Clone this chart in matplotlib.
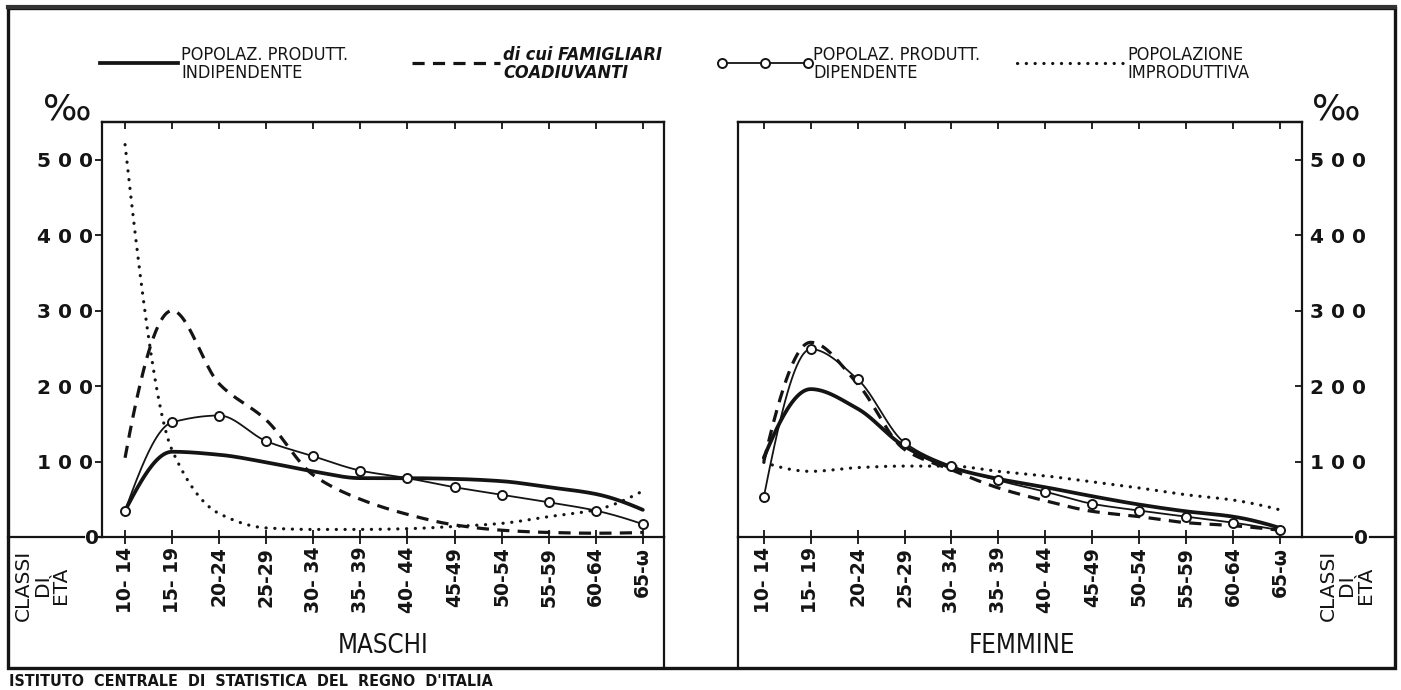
import numpy as np
import matplotlib
matplotlib.use("Agg")
import matplotlib.pyplot as plt
from matplotlib import font_manager
from matplotlib.ticker import FuncFormatter

# ---- data (per mille, by age class) ----
age_classes = ["10- 14", "15- 19", "20-24", "25-29", "30- 34", "35- 39",
               "40- 44", "45-49", "50-54", "55-59", "60-64", "65-ω"]

m_indipendente = [35, 113, 109, 99, 87, 78, 78, 77, 74, 66, 57, 36]
m_coadiuvanti = [105, 300, 203, 155, 82, 50, 30, 16, 9, 6, 5, 6]
m_dipendente = [35, 152, 161, 127, 107, 88, 78, 66, 56, 46, 35, 17]
m_improduttiva = [520, 115, 31, 12, 10, 10, 11, 14, 18, 27, 36, 61]

f_indipendente = [105, 196, 170, 120, 92, 77, 66, 54, 43, 34, 27, 12]
f_coadiuvanti = [100, 258, 203, 116, 89, 65, 48, 34, 27, 19, 15, 9]
f_dipendente = [53, 249, 209, 125, 94, 75, 60, 44, 35, 27, 19, 9]
f_improduttiva = [99, 87, 92, 94, 94, 87, 81, 73, 65, 56, 49, 36]

y_ticks = [100, 200, 300, 400, 500]

INK = "#141414"

names = {f.name for f in font_manager.fontManager.ttflist}
if "Liberation Sans Narrow" in names:
    NARROW = dict(family="Liberation Sans Narrow")
else:
    NARROW = dict(family="DejaVu Sans", stretch="condensed")
GEO = dict(family="DejaVu Sans")


def smooth(values, n=40):
    """Monotone piecewise-cubic (PCHIP) curve through the class values."""
    y = np.asarray(values, float)
    x = np.arange(len(y), dtype=float)
    h = np.diff(x)
    d = np.diff(y) / h
    m = np.zeros_like(y)
    for k in range(1, len(y) - 1):
        if d[k - 1] * d[k] > 0:
            w1 = 2 * h[k] + h[k - 1]
            w2 = h[k] + 2 * h[k - 1]
            m[k] = (w1 + w2) / (w1 / d[k - 1] + w2 / d[k])

    def end(h0, h1, d0, d1):
        mm = ((2 * h0 + h1) * d0 - h0 * d1) / (h0 + h1)
        if np.sign(mm) != np.sign(d0):
            return 0.0
        if np.sign(d0) != np.sign(d1) and abs(mm) > abs(3 * d0):
            return 3 * d0
        return mm

    m[0] = end(h[0], h[1], d[0], d[1])
    m[-1] = end(h[-1], h[-2], d[-1], d[-2])
    xs, ys = [], []
    for k in range(len(y) - 1):
        t = np.linspace(0, 1, n, endpoint=(k == len(y) - 2))
        h00 = 2 * t**3 - 3 * t**2 + 1
        h10 = t**3 - 2 * t**2 + t
        h01 = -2 * t**3 + 3 * t**2
        h11 = t**3 - t**2
        ys.append(h00 * y[k] + h10 * h[k] * m[k] + h01 * y[k + 1] + h11 * h[k] * m[k + 1])
        xs.append(x[k] + t * h[k])
    return np.concatenate(xs), np.concatenate(ys)


W, H = 1401, 690
fig = plt.figure(figsize=(W / 100, H / 100), dpi=100)
fig.patch.set_facecolor("white")


def px_axes(x0, y0, x1, y1):
    return fig.add_axes([x0 / W, 1 - y1 / H, (x1 - x0) / W, (y1 - y0) / H])


YMAX = 550
ax_m = px_axes(102, 122, 664, 537)
ax_f = px_axes(738, 122, 1302, 537)
ax_m.set_xlim(-0.49, 11.45)
ax_f.set_xlim(-0.55, 11.47)

style_ind = dict(color=INK, lw=2.7, solid_capstyle="round", zorder=3)
style_coa = dict(color=INK, lw=2.3, linestyle=(0, (3.8, 2.6)), zorder=2)
style_dip = dict(color=INK, lw=1.3, zorder=4)
style_imp = dict(color=INK, lw=2.3, linestyle=(0, (0.05, 2.7)),
                 dash_capstyle="round", zorder=2)


def draw_panel(ax, ind, coa, dip, imp):
    x = np.arange(len(age_classes))
    ax.plot(*smooth(imp), **style_imp)
    ax.plot(*smooth(coa), **style_coa)
    ax.plot(*smooth(ind), **style_ind)
    ax.plot(*smooth(dip), **style_dip)
    ax.plot(x, dip, linestyle="none", marker="o", ms=6.5, mfc="white",
            mec=INK, mew=1.4, zorder=5)
    ax.set_ylim(0, YMAX)
    ax.set_facecolor("none")
    for s in ax.spines.values():
        s.set_color(INK)
        s.set_linewidth(1.6)
    ax.set_xticks(x)
    ax.set_xticklabels(age_classes, rotation=90, va="top", ha="center",
                       fontsize=13.5, fontweight="bold", color=INK, **GEO)
    ax.tick_params(axis="x", direction="inout", length=10, width=1.3,
                   pad=2, colors=INK)
    top = ax.secondary_xaxis("top")
    top.set_xticks(x)
    top.set_xticklabels([])
    top.tick_params(direction="in", length=5, width=1.3, colors=INK)
    top.spines["top"].set_linewidth(1.6)
    ax.set_yticks(y_ticks)
    ax.yaxis.set_major_formatter(FuncFormatter(lambda v, p: " ".join(str(int(v)))))


def style_yticklabels(ax):
    for t in ax.yaxis.get_major_ticks():
        for lab in (t.label1, t.label2):
            lab.set_fontsize(14.5)
            lab.set_fontweight("bold")
            lab.set_family(GEO["family"])
            lab.set_color(INK)


draw_panel(ax_m, m_indipendente, m_coadiuvanti, m_dipendente, m_improduttiva)
ax_m.tick_params(axis="y", direction="out", length=5, width=1.3, pad=1.5, colors=INK)
style_yticklabels(ax_m)

draw_panel(ax_f, f_indipendente, f_coadiuvanti, f_dipendente, f_improduttiva)
ax_f.yaxis.tick_right()
ax_f.tick_params(axis="y", direction="in", length=5, width=1.3, pad=5.5, colors=INK)
style_yticklabels(ax_f)

# ---- frame, zero lines, labels drawn in pixel space ----
ov = fig.add_axes([0, 0, 1, 1], zorder=10)
ov.set_xlim(0, W)
ov.set_ylim(H, 0)
ov.axis("off")
ov.patch.set_alpha(0)

ov.plot([8, 1395, 1395, 8, 8], [8, 8, 668, 668, 8], color=INK, lw=2.4,
        solid_joinstyle="miter")
ov.plot([8, 1395], [7, 7], color="#333333", lw=3.0)
ov.plot([664, 664], [537, 668], color=INK, lw=1.6)
ov.plot([738, 738], [537, 668], color=INK, lw=1.6)
ov.plot([8, 84], [537, 537], color=INK, lw=1.6)
ov.plot([99, 102], [537, 537], color=INK, lw=1.6)
ov.plot([1302, 1352], [537, 537], color=INK, lw=1.6)
ov.plot([1370, 1395], [537, 537], color=INK, lw=1.6)
ov.text(91.5, 538, "0", ha="center", va="center", fontsize=14.5,
        fontweight="bold", color=INK, **GEO)
ov.text(1361, 538, "0", ha="center", va="center", fontsize=14.5,
        fontweight="bold", color=INK, **GEO)

ov.text(67, 110, "‰", ha="center", va="center", fontsize=26, color=INK, **GEO)
ov.text(1336, 110, "‰", ha="center", va="center", fontsize=26, color=INK, **GEO)

ov.text(42, 585, "CLASSI\nDI\nETÀ", rotation=90, ha="center", va="center",
        multialignment="center", linespacing=0.95, fontsize=14.5, color=INK, **GEO)
ov.text(1347, 585, "CLASSI\nDI\nETÀ", rotation=90, ha="center", va="center",
        multialignment="center", linespacing=0.95, fontsize=14.5, color=INK, **GEO)

ov.text(383, 646, "MASCHI", ha="center", va="center", fontsize=18.5, color=INK, **NARROW)
ov.text(1022, 646, "FEMMINE", ha="center", va="center", fontsize=18.5, color=INK, **NARROW)

ov.text(9, 681, "ISTITUTO  CENTRALE  DI  STATISTICA  DEL  REGNO  D'ITALIA",
        ha="left", va="center", fontsize=11.5, fontweight="bold", color=INK, **NARROW)

# ---- legend keys ----
LY = 63
ov.plot([100, 178], [LY, LY], color=INK, lw=2.7)
ov.plot([412, 500], [LY, LY], color=INK, lw=2.3, linestyle=(0, (3.8, 2.6)))
ov.plot([722, 808], [LY, LY], color=INK, lw=1.3)
ov.plot([722, 765, 808], [LY, LY, LY], linestyle="none", marker="o", ms=6.5,
        mfc="white", mec=INK, mew=1.4)
ov.plot([1017, 1125], [LY, LY], color=INK, lw=2.3, linestyle=(0, (0.05, 2.7)),
        dash_capstyle="round")

leg_kw = dict(ha="left", va="center", fontsize=13, color=INK, linespacing=1.0)
ov.text(181, 64, "POPOLAZ. PRODUTT.\nINDIPENDENTE", **leg_kw, **NARROW)
ov.text(503, 64, "di cui FAMIGLIARI\nCOADIUVANTI", style="italic",
        fontweight="bold", **leg_kw, **NARROW)
ov.text(813, 64, "POPOLAZ. PRODUTT.\nDIPENDENTE", **leg_kw, **NARROW)
ov.text(1127, 64, "POPOLAZIONE\nIMPRODUTTIVA", **leg_kw, **NARROW)

fig.savefig("out.png", dpi=100, facecolor="white")
